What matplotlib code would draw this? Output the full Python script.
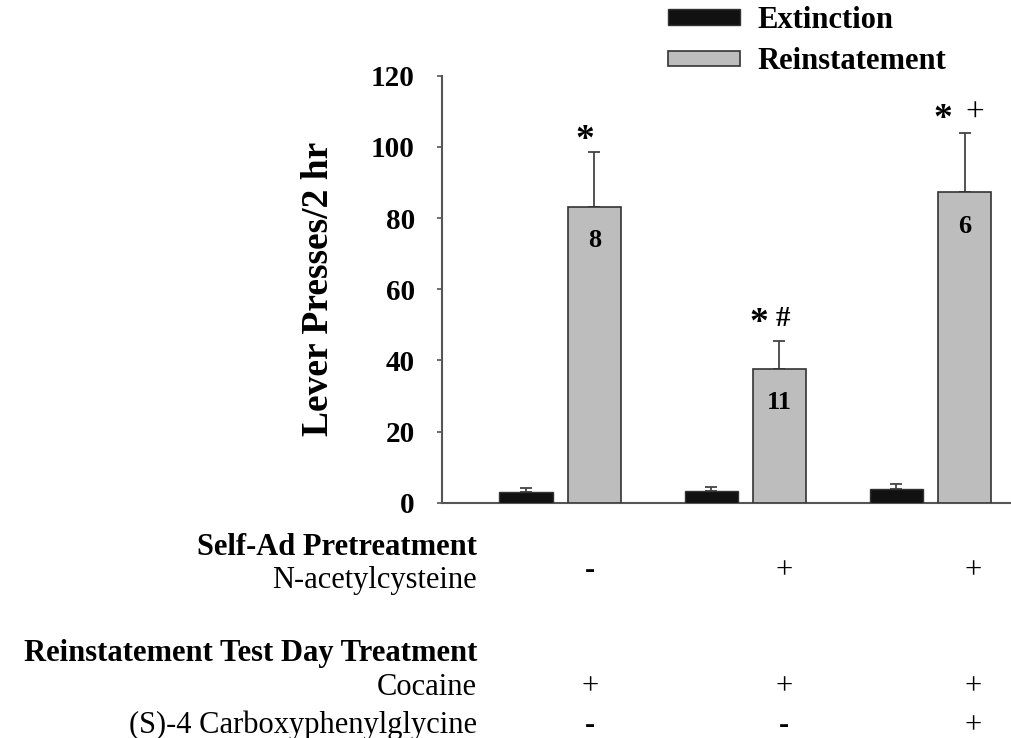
import matplotlib
matplotlib.use("Agg")
import matplotlib.pyplot as plt
import numpy as np
from matplotlib.patches import Patch
from matplotlib.transforms import blended_transform_factory

plt.rcParams['font.family'] = ['Liberation Serif', 'DejaVu Serif']

# data
groups = ['Cocaine', 'NAC + Cocaine', 'NAC + Cocaine + (S)-4CPG']
extinction = [3.1, 3.4, 3.8]
extinction_err = [0.9, 1.1, 1.4]
reinstatement = [83.1, 37.6, 87.2]
reinstatement_err = [15.5, 7.9, 16.6]
n_labels = ['8', '11', '6']
sig_star = ['*', '*', '*']
sig_extra = ['', '#', '+']

# treatment table under the axis
row_titles = ['Self-Ad Pretreatment', 'Reinstatement Test Day Treatment']
row_names = ['N-acetylcysteine', 'Cocaine', '(S)-4 Carboxyphenylglycine']
row_signs = [['-', '+', '+'],
             ['+', '+', '+'],
             ['-', '-', '+']]

W, H = 1012, 738
fig = plt.figure(figsize=(W / 100, H / 100), dpi=100)
ax = fig.add_axes([442 / W, 1 - 502.7 / H, (W - 442) / W, (502.7 - 75.7) / H])

x = np.arange(len(groups))
off = 0.184
width = 0.29
ext_color = '#111111'
re_color = '#bdbdbd'
edge = '#333333'

ax.bar(x - off, extinction, width, color=ext_color, edgecolor=edge, linewidth=1.0, zorder=3)
ax.bar(x + off, reinstatement, width, color=re_color, edgecolor=edge, linewidth=1.2, zorder=3)
ax.errorbar(x - off, extinction, yerr=[np.zeros(3), extinction_err], fmt='none',
            ecolor='#444444', elinewidth=1.3, capsize=4.5, capthick=1.3, zorder=2)
ax.errorbar(x + off, reinstatement, yerr=[np.zeros(3), reinstatement_err], fmt='none',
            ecolor='#444444', elinewidth=1.3, capsize=4.5, capthick=1.3, zorder=2)

# n inside bars, significance marks above
star_dx = [-0.049, -0.113, -0.116]
star_dy = [3.3, 4.8, 4.0]
extra_dx = [0.0, 0.016, 0.057]
for i in range(len(groups)):
    top = reinstatement[i] + reinstatement_err[i]
    ax.text(x[i] + off, reinstatement[i] - 9.5, n_labels[i], ha='center', va='center',
            fontsize=19, fontweight='bold', zorder=4)
    ax.text(x[i] + off + star_dx[i], top + star_dy[i], sig_star[i],
            ha='center', va='center', fontsize=27, fontweight='bold')
    if sig_extra[i]:
        ax.text(x[i] + off + extra_dx[i], top + star_dy[i] + 1.5, sig_extra[i],
                ha='center', va='center',
                fontsize=21 if sig_extra[i] == '#' else 24,
                fontweight='bold' if sig_extra[i] == '#' else 'normal')

ax.set_xlim(-0.639, 2.44)
ax.set_ylim(0, 120)
ax.set_yticks(np.arange(0, 121, 20))
ax.set_xticks([])
for s in ['top', 'right']:
    ax.spines[s].set_visible(False)
for s in ['left', 'bottom']:
    ax.spines[s].set_color('#555555')
    ax.spines[s].set_linewidth(1.5)
ax.tick_params(axis='y', direction='out', length=3.5, width=1.2, color='#555555',
               pad=16, labelsize=21)
for lab in ax.get_yticklabels():
    lab.set_fontweight('bold')

ax.set_ylabel('Lever Presses/2 hr', fontsize=27, fontweight='bold', va='center')
ax.yaxis.set_label_coords(-0.216, 0.5)

handles = [Patch(facecolor=ext_color, edgecolor=edge, linewidth=1.0),
           Patch(facecolor=re_color, edgecolor=edge, linewidth=1.2)]
ax.legend(handles, ['Extinction', 'Reinstatement'], loc='upper left',
          bbox_to_anchor=(668 / W, 1 - 6 / H), bbox_transform=fig.transFigure,
          frameon=False, borderpad=0, borderaxespad=0, handlelength=2.35,
          handleheight=0.4, handletextpad=0.59, labelspacing=0.4,
          prop={'weight': 'bold', 'size': 22})

# treatment table
tx = 477 / W
fig.text(tx, 1 - 555 / H, row_titles[0], ha='right', va='baseline', fontsize=22, fontweight='bold')
fig.text(tx, 1 - 661 / H, row_titles[1], ha='right', va='baseline', fontsize=22, fontweight='bold')
name_base = [588, 695, 733]
sign_base = [578, 694, 733]
sign_x = [0.16, 1.21, 2.23]
trans = blended_transform_factory(ax.transData, fig.transFigure)
for r in range(3):
    fig.text(tx, 1 - name_base[r] / H, row_names[r], ha='right', va='baseline', fontsize=22)
    for c in range(3):
        sign = row_signs[r][c]
        ax.text(sign_x[c], 1 - sign_base[r] / H, sign, transform=trans, ha='center',
                va='baseline', fontsize=22, fontweight='bold' if sign == '-' else 'normal',
                clip_on=False)

fig.savefig('out.png', dpi=100)
